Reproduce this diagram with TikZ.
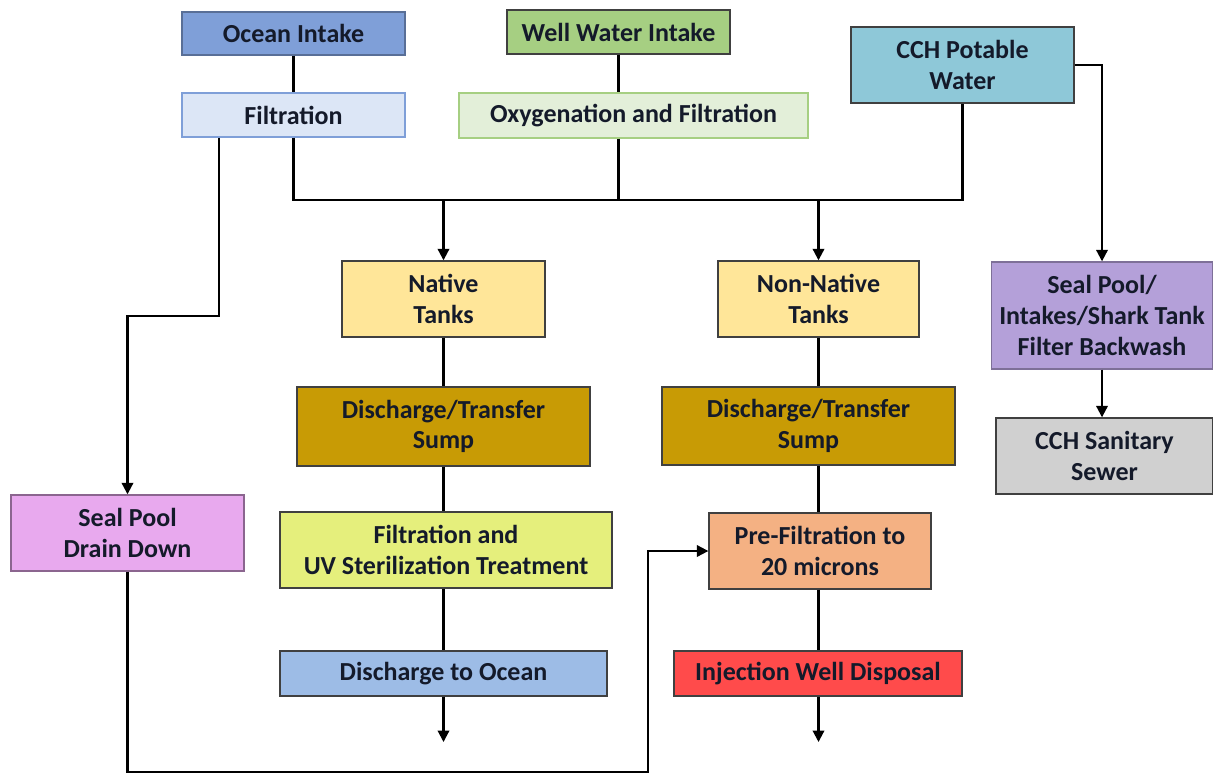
\documentclass[tikz,border=0pt]{standalone}
\usepackage{fontspec}
\setmainfont{Carlito}
\usetikzlibrary{arrows.meta, calc}
\definecolor{oceanblue}{HTML}{7F9FD8}
\definecolor{filtblue}{HTML}{DCE6F6}
\definecolor{wellgreen}{HTML}{A6CF82}
\definecolor{oxygreen}{HTML}{E3EFD9}
\definecolor{cchteal}{HTML}{8EC8D8}
\definecolor{tankyellow}{HTML}{FFE699}
\definecolor{sumpgold}{HTML}{C89B05}
\definecolor{uvlime}{HTML}{E5EF7C}
\definecolor{preorange}{HTML}{F4B183}
\definecolor{dischblue}{HTML}{9DBCE6}
\definecolor{injred}{HTML}{FF4B4B}
\definecolor{drainpink}{HTML}{E8A9EE}
\definecolor{washpurple}{HTML}{B4A0D9}
\definecolor{sewergrey}{HTML}{D0D0D0}
\definecolor{inknavy}{HTML}{141A2A}
\tikzset{box/.style={draw=black!75, line width=0.8pt, align=center, inner sep=2pt,
    text=inknavy, font=\fontsize{14.8}{17.5}\selectfont\bfseries}}
\tikzset{pipe/.style={line width=1.2pt}}
\tikzset{flow/.style={pipe, -{Triangle[width=6.5pt,length=6.5pt]}}}

\begin{document}
\begin{tikzpicture}[x=0.02cm, y=-0.02cm]
    \useasboundingbox (0,0) rectangle (1213,774);
    % sources
    \node[box, fill=oceanblue, draw=oceanblue!70!black, minimum width=4.46cm, minimum height=0.86cm] (ocean) at (293.5,33.5) {Ocean Intake};
    \node[box, fill=filtblue, draw=oceanblue, minimum width=4.46cm, minimum height=0.88cm] (filt) at (293.5,115) {Filtration};
    \node[box, fill=wellgreen, minimum width=4.46cm, minimum height=0.88cm] (well) at (618.5,32) {Well Water Intake};
    \node[box, fill=oxygreen, draw=wellgreen, minimum width=6.98cm, minimum height=0.9cm] (oxy) at (633.5,115.5) {Oxygenation and Filtration};
    \node[box, fill=cchteal, minimum width=4.46cm, minimum height=1.52cm] (cch) at (962.5,65) {CCH Potable\\Water};
    % tanks
    \node[box, fill=tankyellow, minimum width=4.06cm, minimum height=1.52cm] (native) at (443.5,299) {Native\\Tanks};
    \node[box, fill=tankyellow, minimum width=4.02cm, minimum height=1.52cm] (nonnative) at (818.5,299) {Non-Native\\Tanks};
    \node[box, fill=washpurple, draw=washpurple!70!black, minimum width=4.42cm, minimum height=2.14cm] (wash) at (1102,315.5) {Seal Pool/\\Intakes/Shark Tank\\Filter Backwash};
    \node[box, fill=sewergrey, minimum width=4.34cm, minimum height=1.52cm] (sewer) at (1104.5,456) {CCH Sanitary\\Sewer};
    \node[box, fill=sumpgold, minimum width=5.86cm, minimum height=1.58cm] (sumpL) at (443.5,426.5) {Discharge/Transfer\\Sump};
    \node[box, fill=sumpgold, minimum width=5.86cm, minimum height=1.56cm] (sumpR) at (808.5,426) {Discharge/Transfer\\Sump};
    \node[box, fill=drainpink, draw=drainpink!60!black, minimum width=4.66cm, minimum height=1.52cm] (drain) at (127.5,533) {Seal Pool\\Drain Down};
    \node[box, fill=uvlime, minimum width=6.64cm, minimum height=1.52cm] (uv) at (446,550) {Filtration and\\UV Sterilization Treatment};
    \node[box, fill=preorange, minimum width=4.44cm, minimum height=1.52cm] (prefilt) at (820,551) {Pre-Filtration to\\20 microns};
    \node[box, fill=dischblue, minimum width=6.54cm, minimum height=0.9cm] (dischocean) at (443.5,673.5) {Discharge to Ocean};
    \node[box, fill=injred, minimum width=5.76cm, minimum height=0.9cm] (inject) at (818,673.5) {Injection Well Disposal};

    % supply lines
    \coordinate (busL) at (293.5,200);
    \coordinate (busR) at (962.5,200);
    \coordinate (drainturn) at (128,316);
    \coordinate (loop) at (648,772);
    \coordinate (outL) at (443.5,742);
    \coordinate (outR) at (818.5,742);
    \draw[pipe] (ocean) -- (filt);
    \draw[pipe] (well) -- (well |- oxy.north);
    \draw[pipe] (filt.south) -- (busL) -- (busR) -- (cch.south);
    \draw[pipe] (oxy.south -| well) -- (well |- busL);
    \draw[flow] (native.north |- busL) -- (native);
    \draw[flow] (nonnative.north |- busL) -- (nonnative);
    \draw[flow] ($(filt.south west)+(38,0)$) |- (drainturn) -| (drain.north);
    \draw[flow] (cch.east) -| (wash.north);
    \draw[flow] (wash.south) -- (wash.south |- sewer.north);

    % treatment chains
    \draw[pipe] (native) -- (sumpL);
    \draw[pipe] (sumpL) -- (sumpL.south |- uv.north);
    \draw[pipe] (sumpL.south |- uv.south) -- (dischocean);
    \draw[flow] (dischocean) -- (outL);
    \draw[pipe] (nonnative) -- (nonnative.south |- sumpR.north);
    \draw[pipe] (nonnative.south |- sumpR.south) -- (nonnative.south |- prefilt.north);
    \draw[pipe] (nonnative.south |- prefilt.south) -- (nonnative.south |- inject.north);
    \draw[flow] (nonnative.south |- inject.south) -- (outR);
    \draw[flow] (drain.south) |- (loop) |- (prefilt.west);
\end{tikzpicture}
\end{document}
